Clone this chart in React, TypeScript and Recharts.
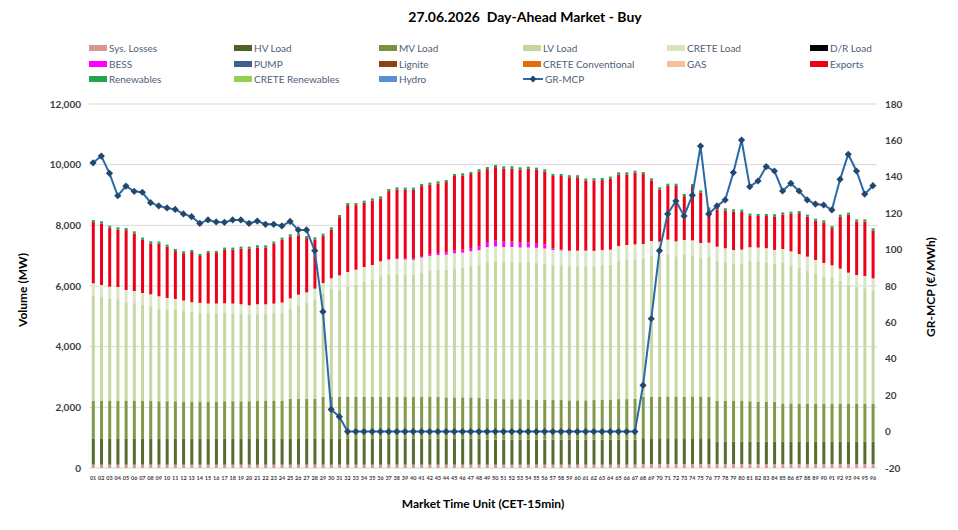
import React from 'react';
import { Bar, CartesianGrid, ComposedChart, Line, XAxis, YAxis } from 'recharts';

const MTU = [
  '01', '02', '03', '04', '05', '06', '07', '08', '09', '10', '11', '12', '13', '14', '15', '16',
  '17', '18', '19', '20', '21', '22', '23', '24', '25', '26', '27', '28', '29', '30', '31', '32',
  '33', '34', '35', '36', '37', '38', '39', '40', '41', '42', '43', '44', '45', '46', '47', '48',
  '49', '50', '51', '52', '53', '54', '55', '56', '57', '58', '59', '60', '61', '62', '63', '64',
  '65', '66', '67', '68', '69', '70', '71', '72', '73', '74', '75', '76', '77', '78', '79', '80',
  '81', '82', '83', '84', '85', '86', '87', '88', '89', '90', '91', '92', '93', '94', '95', '96',
];

const sysLosses = [
  110, 110, 110, 110, 110, 110, 110, 110, 110, 110, 110, 110, 110, 110, 110, 110,
  110, 110, 110, 110, 110, 110, 110, 110, 110, 110, 110, 110, 110, 110, 110, 110,
  110, 110, 110, 110, 110, 110, 110, 110, 110, 110, 110, 110, 110, 110, 110, 110,
  110, 110, 110, 110, 110, 110, 110, 110, 110, 110, 110, 110, 110, 110, 110, 110,
  110, 110, 110, 130, 130, 130, 130, 130, 130, 130, 130, 130, 130, 130, 130, 130,
  130, 130, 130, 130, 130, 130, 130, 130, 130, 130, 130, 130, 130, 130, 130, 130,
];

const hvLoad = [
  850, 850, 850, 850, 850, 850, 850, 850, 850, 850, 850, 850, 850, 850, 850, 850,
  850, 850, 850, 850, 850, 850, 850, 850, 850, 850, 850, 850, 850, 850, 850, 850,
  850, 850, 850, 850, 850, 850, 850, 850, 850, 850, 850, 850, 850, 850, 850, 850,
  820, 820, 820, 820, 820, 820, 820, 820, 820, 820, 820, 820, 820, 820, 820, 820,
  820, 820, 820, 850, 850, 850, 850, 850, 850, 850, 850, 850, 740, 740, 740, 740,
  740, 740, 740, 740, 740, 740, 740, 740, 740, 740, 740, 740, 740, 740, 740, 740,
];

const mvLoad = [
  1260, 1260, 1260, 1260, 1260, 1260, 1250, 1250, 1240, 1240, 1240, 1230, 1230, 1230, 1230, 1230,
  1240, 1240, 1240, 1240, 1250, 1250, 1250, 1250, 1320, 1320, 1320, 1320, 1390, 1390, 1390, 1390,
  1390, 1390, 1390, 1390, 1390, 1390, 1380, 1380, 1380, 1380, 1380, 1370, 1370, 1370, 1370, 1360,
  1350, 1350, 1340, 1340, 1340, 1330, 1330, 1320, 1310, 1310, 1300, 1300, 1300, 1310, 1320, 1330,
  1340, 1340, 1350, 1370, 1370, 1370, 1380, 1380, 1370, 1380, 1380, 1370, 1350, 1350, 1350, 1340,
  1330, 1320, 1320, 1310, 1260, 1260, 1250, 1250, 1250, 1240, 1240, 1240, 1250, 1250, 1250, 1250,
];

const lvLoad = [
  3470, 3413, 3358, 3347, 3248, 3215, 3160, 3116, 3061, 3007, 3053, 3009, 2955, 2933, 2911, 2911,
  2911, 2900, 2878, 2845, 2867, 2867, 2889, 2922, 2963, 3084, 3161, 3282, 3399, 3553, 3512, 3622,
  3699, 3787, 3853, 3974, 4031, 4043, 4043, 4033, 4110, 4155, 4189, 4212, 4257, 4280, 4325, 4371,
  4510, 4534, 4522, 4522, 4509, 4521, 4509, 4496, 4455, 4443, 4430, 4440, 4440, 4427, 4440, 4440,
  4559, 4592, 4603, 4545, 4644, 4622, 4677, 4622, 4677, 4655, 4567, 4619, 4617, 4563, 4507, 4530,
  4617, 4617, 4595, 4551, 4630, 4552, 4475, 4388, 4278, 4190, 4173, 4063, 3920, 3843, 3810, 3733,
];

const creteLoad = [
  400, 400, 400, 400, 400, 400, 400, 400, 400, 400, 320, 320, 320, 320, 320, 320,
  320, 320, 320, 320, 320, 320, 320, 320, 350, 350, 350, 350, 350, 350, 490, 490,
  490, 490, 490, 490, 490, 490, 490, 490, 490, 490, 490, 490, 490, 490, 490, 490,
  490, 490, 490, 490, 490, 490, 490, 490, 490, 490, 490, 490, 490, 490, 490, 490,
  490, 490, 490, 490, 490, 490, 490, 490, 490, 490, 490, 460, 460, 460, 460, 460,
  460, 460, 460, 460, 460, 460, 460, 460, 460, 460, 400, 400, 400, 400, 400, 400,
];

const bess = [
  0, 0, 0, 0, 0, 0, 0, 0, 0, 0, 0, 0, 0, 0, 0, 0,
  0, 0, 0, 0, 0, 0, 0, 0, 0, 0, 0, 0, 0, 0, 0, 0,
  0, 0, 0, 0, 20, 30, 30, 40, 50, 60, 70, 80, 90, 100, 110, 130,
  170, 190, 180, 180, 160, 170, 160, 140, 60, 40, 20, 10, 10, 0, 10, 20,
  0, 0, 0, 0, 0, 0, 0, 0, 0, 0, 0, 0, 0, 0, 0, 0,
  0, 0, 0, 0, 0, 0, 0, 0, 0, 0, 0, 0, 0, 0, 0, 0,
];

const exportsMw = [
  2017, 2030, 1941, 1897, 1974, 1897, 1755, 1678, 1733, 1688, 1579, 1557, 1655, 1545, 1666, 1666,
  1765, 1776, 1831, 1864, 1875, 1875, 1974, 2073, 2041, 1953, 1788, 1623, 1557, 1611, 1919, 2205,
  2128, 2117, 2128, 2073, 2237, 2270, 2270, 2270, 2304, 2293, 2293, 2315, 2458, 2447, 2436, 2469,
  2403, 2425, 2414, 2414, 2414, 2425, 2414, 2402, 2381, 2413, 2413, 2413, 2303, 2326, 2303, 2326,
  2359, 2326, 2359, 2304, 1996, 1721, 1776, 1831, 1446, 1787, 1666, 1095, 1227, 1248, 1271, 1248,
  1040, 1040, 1062, 1106, 1138, 1238, 1348, 1314, 1292, 1337, 1226, 1710, 1908, 1765, 1798, 1578,
];

const renewables = [
  70, 70, 70, 70, 70, 70, 70, 70, 70, 70, 70, 70, 70, 70, 70, 70,
  70, 70, 70, 70, 70, 70, 70, 70, 70, 70, 70, 70, 70, 70, 70, 70,
  70, 70, 70, 70, 70, 70, 70, 70, 70, 70, 70, 70, 70, 70, 70, 70,
  70, 70, 70, 70, 70, 70, 70, 70, 70, 70, 70, 70, 70, 70, 70, 70,
  70, 70, 70, 70, 70, 70, 70, 70, 70, 70, 70, 70, 70, 70, 70, 70,
  70, 70, 70, 70, 70, 70, 70, 70, 70, 70, 70, 70, 70, 70, 70, 70,
];

const grMcp = [
  147.7, 151.4, 141.9, 129.6, 134.9, 132.0, 131.5, 125.8, 124.0, 122.9, 122.1, 119.6, 118.1, 114.4, 116.3, 115.2,
  115.0, 116.3, 116.3, 114.4, 115.7, 113.9, 113.9, 113.0, 115.5, 110.8, 110.8, 99.4, 65.9, 12.2, 8.2, 0,
  0, 0, 0, 0, 0, 0, 0, 0, 0, 0, 0, 0, 0, 0, 0, 0,
  0, 0, 0, 0, 0, 0, 0, 0, 0, 0, 0, 0, 0, 0, 0, 0,
  0, 0, 0, 25.4, 62.0, 99.4, 119.6, 126.7, 118.5, 129.8, 156.9, 119.6, 124.0, 127.3, 142.3, 160.2,
  134.6, 137.7, 145.6, 143.2, 132.2, 136.4, 132.2, 127.3, 125.0, 124.5, 121.8, 138.6, 152.4, 143.2, 130.5, 135.1,
];

const LEFT_TICKS = [0, 2000, 4000, 6000, 8000, 10000, 12000];
const RIGHT_TICKS = [-20, 0, 20, 40, 60, 80, 100, 120, 140, 160, 180];

const LEGEND_ROWS = [
  [
    { name: 'Sys. Losses', color: '#d99694' },
    { name: 'HV Load', color: '#4f6228' },
    { name: 'MV Load', color: '#77933c' },
    { name: 'LV Load', color: '#c3d69b' },
    { name: 'CRETE Load', color: '#d7e4bd' },
    { name: 'D/R Load', color: '#000000' },
  ],
  [
    { name: 'BESS', color: '#ff00ff' },
    { name: 'PUMP', color: '#3f5f93' },
    { name: 'Lignite', color: '#8b4513' },
    { name: 'CRETE Conventional', color: '#e46c0a' },
    { name: 'GAS', color: '#f6c09a' },
    { name: 'Exports', color: '#ee0016' },
  ],
  [
    { name: 'Renewables', color: '#21a553' },
    { name: 'CRETE Renewables', color: '#92d050' },
    { name: 'Hydro', color: '#5b8fd4' },
    { name: 'GR-MCP', color: 'line' },
  ],
];
const LEGEND_COLS = [89, 234, 379, 523, 667, 810];
const LEGEND_Y = [48, 64, 79];

const FONT = 'Lato, "Open Sans", sans-serif';
const LINE_COLOR = '#2a6aa8';
const MARKER_COLOR = '#24476e';

const TICK_STYLE = { fill: '#404040', fontSize: 10, fontFamily: FONT, fontWeight: 700 };
const X_TICK_STYLE = { fill: '#404040', fontSize: 5.5, fontFamily: FONT, fontWeight: 700 };

// eslint-disable-next-line @typescript-eslint/no-explicit-any
const DiamondDot = (props: any) => {
  const { cx, cy, index } = props;
  if (cx == null || cy == null) return <g key={index} />;
  const r = 3.6;
  return (
    <path
      key={index}
      d={`M${cx},${cy - r}L${cx + r},${cy}L${cx},${cy + r}L${cx - r},${cy}Z`}
      fill={MARKER_COLOR}
    />
  );
};

export default function App() {
  const data = MTU.map((m, i) => ({
    mtu: m,
    losses: sysLosses[i],
    hv: hvLoad[i],
    mv: mvLoad[i],
    lv: lvLoad[i],
    crete: creteLoad[i],
    bess: bess[i],
    exports: exportsMw[i],
    ren: renewables[i],
    mcp: grMcp[i],
  }));

  return (
    <div style={{ position: 'relative', width: 958, height: 530, background: '#fff', fontFamily: FONT }}>
      <style>{'body{margin:0}'}</style>
      <div
        style={{
          position: 'absolute', top: 8, left: 0, width: 1050, textAlign: 'center',
          fontSize: 14, fontWeight: 700, color: '#000', whiteSpace: 'pre',
        }}
      >
        {'27.06.2026  Day-Ahead Market - Buy'}
      </div>

      {LEGEND_ROWS.map((row, r) =>
        row.map((item, c) => (
          <div
            key={item.name}
            style={{
              position: 'absolute', left: LEGEND_COLS[c], top: LEGEND_Y[r] - 7, height: 14,
              display: 'flex', alignItems: 'center', fontSize: 10, color: '#4f6075', whiteSpace: 'nowrap',
            }}
          >
            {item.color === 'line' ? (
              <svg width={20} height={8} style={{ marginRight: 2 }}>
                <line x1={0} y1={4} x2={20} y2={4} stroke={LINE_COLOR} strokeWidth={2} />
                <path d="M10,0.5L13.5,4L10,7.5L6.5,4Z" fill={MARKER_COLOR} />
              </svg>
            ) : (
              <span style={{ display: 'inline-block', width: 18, height: 6, background: item.color, marginRight: 2 }} />
            )}
            {item.name}
          </div>
        )),
      )}

      <div
        style={{
          position: 'absolute', left: 22, top: 290, transform: 'translate(-50%, -50%) rotate(-90deg)',
          fontSize: 12, fontWeight: 700, whiteSpace: 'nowrap', color: '#000',
        }}
      >
        Volume (MW)
      </div>
      <div
        style={{
          position: 'absolute', left: 930, top: 287, transform: 'translate(-50%, -50%) rotate(-90deg)',
          fontSize: 12, fontWeight: 700, whiteSpace: 'nowrap', color: '#000',
        }}
      >
        GR-MCP (€/MWh)
      </div>
      <div
        style={{
          position: 'absolute', left: 0, width: 966, top: 496, textAlign: 'center',
          fontSize: 12, fontWeight: 700, color: '#000',
        }}
      >
        Market Time Unit (CET-15min)
      </div>

      <div style={{ position: 'absolute', left: 0, top: 0 }}>
        <ComposedChart
          width={958}
          height={530}
          data={data}
          margin={{ top: 104, right: 0, left: 0, bottom: 32 }}
          barCategoryGap="34%"
        >
          <CartesianGrid yAxisId="left" vertical={false} stroke="#d9d9d9" />
          <XAxis
            dataKey="mtu"
            interval={0}
            height={30}
            axisLine={false}
            tickLine={false}
            tick={X_TICK_STYLE}
            tickMargin={2}
          />
          <YAxis
            yAxisId="left"
            width={89}
            domain={[0, 12000]}
            ticks={LEFT_TICKS}
            axisLine={false}
            tickLine={false}
            tick={TICK_STYLE}
            tickFormatter={(v: number) => v.toLocaleString('en-US')}
          />
          <YAxis
            yAxisId="right"
            orientation="right"
            width={81}
            domain={[-20, 180]}
            ticks={RIGHT_TICKS}
            axisLine={false}
            tickLine={false}
            tick={TICK_STYLE}
          />
          <Bar yAxisId="left" dataKey="losses" stackId="s" fill="#d99694" isAnimationActive={false} />
          <Bar yAxisId="left" dataKey="hv" stackId="s" fill="#566b2e" isAnimationActive={false} />
          <Bar yAxisId="left" dataKey="mv" stackId="s" fill="#819a4a" isAnimationActive={false} />
          <Bar yAxisId="left" dataKey="lv" stackId="s" fill="#c6d8a2" isAnimationActive={false} />
          <Bar yAxisId="left" dataKey="crete" stackId="s" fill="#dbe6c4" isAnimationActive={false} />
          <Bar yAxisId="left" dataKey="bess" stackId="s" fill="#ff00ff" isAnimationActive={false} />
          <Bar yAxisId="left" dataKey="exports" stackId="s" fill="#ee0016" isAnimationActive={false} />
          <Bar yAxisId="left" dataKey="ren" stackId="s" fill="#21a553" isAnimationActive={false} />
          <Line
            yAxisId="right"
            dataKey="mcp"
            stroke={LINE_COLOR}
            strokeWidth={2}
            dot={DiamondDot}
            activeDot={false}
            isAnimationActive={false}
          />
        </ComposedChart>
      </div>
    </div>
  );
}
